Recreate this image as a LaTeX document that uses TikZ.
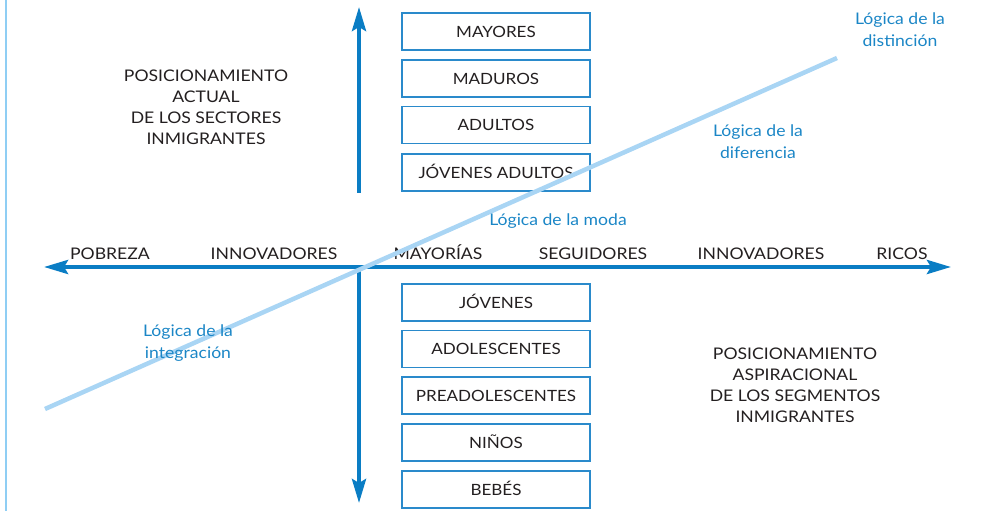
\documentclass[tikz,border=0pt]{standalone}
\usepackage{fontspec}
\setmainfont[FakeStretch=1.1]{Lato}
\usetikzlibrary{arrows.meta}
\definecolor{axisblue}{HTML}{0A7DC4}
\definecolor{boxblue}{HTML}{2A8ACB}
\definecolor{lightline}{HTML}{A9D5F4}
\definecolor{edgeline}{HTML}{8FCEF4}
\definecolor{txt}{HTML}{231F20}
\definecolor{bluetxt}{HTML}{1B86C6}
\tikzset{
  axis/.style={draw=axisblue, line width=4pt, -{Stealth[length=24pt,width=14pt,inset=4pt]}},
  agebox/.style={draw=boxblue, line width=1.6pt, minimum width=188pt, minimum height=37pt, inner sep=0pt, text height=11.5pt, text depth=0pt, text=txt, font=\fontsize{15.5}{18}\selectfont},
  axlabel/.style={text=txt, font=\fontsize{16}{18}\selectfont, inner sep=0pt, anchor=base},
  bluelabel/.style={text=bluetxt, font=\fontsize{16}{22}\selectfont, align=center, inner sep=0pt},
  poslabel/.style={text=txt, font=\fontsize{16}{21}\selectfont, align=center, inner sep=0pt},
  diag/.style={draw=lightline, line width=4.5pt}
}
\begin{document}
\begin{tikzpicture}[x=1pt,y=-1pt]
\useasboundingbox (0,0) rectangle (987,521);
% left edge line
\draw[edgeline, line width=1.5pt] (6,0) -- (6,511);
% coordinates
\coordinate (hl) at (44,267);
\coordinate (hr) at (951,267);
\coordinate (hc) at (359,267);
\coordinate (vtop) at (359,7);
\coordinate (vupbase) at (359,193);
\coordinate (vbot) at (359,503);
\coordinate (dl) at (45,409);
\coordinate (dr) at (837,58);
% axes
\draw[axis] (hc) -- (hl);
\draw[axis] (hc) -- (hr);
\draw[axis] (vupbase) -- (vtop);
\draw[axis] (hc) -- (vbot);
% upper boxes
\node[agebox] (mayores) at (496,31.5) {MAYORES};
\node[agebox] (maduros) at (496,78.5) {MADUROS};
\node[agebox] (adultos) at (496,125) {ADULTOS};
\node[agebox] (jadultos) at (496,172.5) {JÓVENES ADULTOS};
% lower boxes
\node[agebox] (jovenes) at (496,302.5) {JÓVENES};
\node[agebox] (adoles) at (496,349) {ADOLESCENTES};
\node[agebox] (preado) at (496,395.5) {PREADOLESCENTES};
\node[agebox] (ninos) at (496,442.5) {NIÑOS};
\node[agebox] (bebes) at (496,489.5) {BEBÉS};
% axis labels
\node[axlabel] (pobreza) at (110,259) {POBREZA};
\node[axlabel] (innov1) at (274,259) {INNOVADORES};
\node[axlabel] (mayorias) at (438,259) {MAYORÍAS};
\node[axlabel] (seguid) at (593,259) {SEGUIDORES};
\node[axlabel] (innov2) at (761,259) {INNOVADORES};
\node[axlabel] (ricos) at (902,259) {RICOS};
% position labels
\node[poslabel] (actual) at (206,107) {POSICIONAMIENTO\\ACTUAL\\DE LOS SECTORES\\INMIGRANTES};
\node[poslabel] (aspir) at (795,385.5) {POSICIONAMIENTO\\ASPIRACIONAL\\DE LOS SEGMENTOS\\INMIGRANTES};
% diagonal
\draw[diag] (dl) -- (dr);
% blue labels
\node[bluelabel] (moda) at (558,221) {Lógica de la moda};
\node[bluelabel] (difer) at (758,142) {Lógica de la\\diferencia};
\node[bluelabel] (distin) at (900,30) {Lógica de la\\distinción};
\node[bluelabel] (integ) at (188,343) {Lógica de la\\integración};
\end{tikzpicture}
\end{document}
